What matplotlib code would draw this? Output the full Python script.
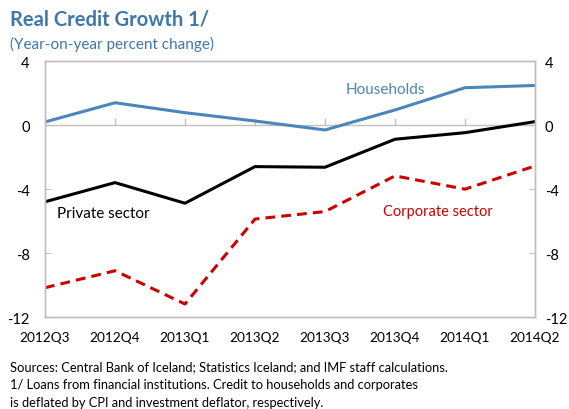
import matplotlib
matplotlib.use("Agg")
import matplotlib.pyplot as plt

plt.rcParams['font.family'] = ['Lato', 'DejaVu Sans']

quarters = ["2012Q3", "2012Q4", "2013Q1", "2013Q2", "2013Q3", "2013Q4", "2014Q1", "2014Q2"]
households = [0.19, 1.39, 0.77, 0.25, -0.31, 0.94, 2.33, 2.47]
private_sector = [-4.80, -3.60, -4.89, -2.60, -2.64, -0.89, -0.48, 0.21]
corporate_sector = [-10.17, -9.11, -11.19, -5.88, -5.41, -3.18, -4.01, -2.56]
yticks = [4, 0, -4, -8, -12]

blue = '#4A85BB'
red = '#CC0000'
title_blue = '#3F77AD'
grey = '#BFBFBF'

fig = plt.figure(figsize=(5.69, 4.10), dpi=100)
ax = fig.add_axes([45/569, 1-318/410, 490/569, 256/410])
x = list(range(len(quarters)))

ax.plot(x, households, color=blue, lw=2.2, solid_joinstyle='round')
ax.plot(x, private_sector, color='black', lw=2.2, solid_joinstyle='round')
ax.plot(x, corporate_sector, color=red, lw=2.2, ls=(0, (3.2, 2.0)))

ax.axhline(0, color=grey, lw=1.0, zorder=0)
for xi in x[1:-1]:
    ax.plot([xi, xi], [0, 0.35], color=grey, lw=1.0, zorder=0)

ax.set_xlim(0, len(quarters) - 1)
ax.set_ylim(-12, 4)
for s in ax.spines.values():
    s.set_color(grey)
    s.set_linewidth(1.0)

ax.set_yticks(yticks)
ax.set_yticklabels([str(v) for v in yticks])
ax.tick_params(axis='y', direction='in', length=4, color=grey, labelsize=10.5,
               left=True, right=False, labelleft=True, labelright=False, pad=11)
ax.set_xticks(x)
ax.set_xticklabels(quarters)
ax.tick_params(axis='x', length=0, labelsize=9.8, pad=10)

ax2 = ax.twinx()
ax2.set_ylim(-12, 4)
ax2.set_yticks(yticks)
ax2.set_yticklabels([str(v) for v in yticks])
ax2.tick_params(axis='y', direction='in', length=4, color=grey, labelsize=10.5, pad=7)
for s in ax2.spines.values():
    s.set_color(grey)
    s.set_linewidth(1.0)

ax.text(4.3, 2.25, "Households", color=blue, fontsize=11, va='center', ha='left')
ax.text(0.17, -5.5, "Private sector", color='black', fontsize=11, va='center', ha='left')
ax.text(4.83, -5.37, "Corporate sector", color=red, fontsize=10.5, va='center', ha='left')

fig.text(10/569, 1-20/410, "Real Credit Growth 1/", color=title_blue, fontsize=14.5,
         fontweight='bold', va='center', ha='left')
fig.text(10/569, 1-44/410, "(Year-on-year percent change)", color=title_blue, fontsize=11,
         va='center', ha='left')

foot = ["Sources: Central Bank of Iceland; Statistics Iceland; and IMF staff calculations.",
        "1/ Loans from financial institutions. Credit to households and corporates",
        "is deflated by CPI and investment deflator, respectively."]
for i, line in enumerate(foot):
    fig.text(10/569, 1-(367 + 18*i)/410, line, fontsize=9.3, va='center', ha='left')

fig.savefig("out.png", dpi=100)
